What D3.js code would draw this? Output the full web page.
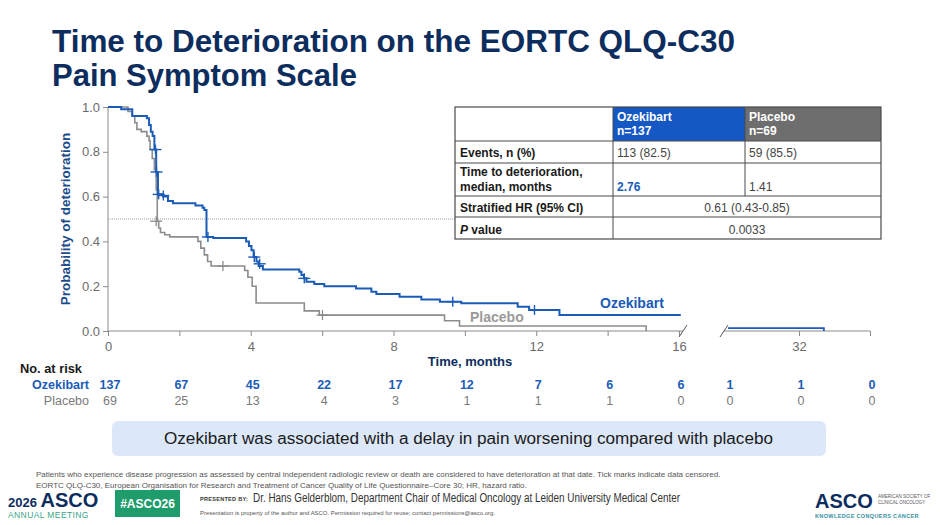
<!DOCTYPE html>
<html>
<head>
<meta charset="utf-8">
<script src="https://cdn.jsdelivr.net/npm/d3@7"></script>
<style>
  body { margin: 0; background: #fff; }
  svg { display: block; font-family: "Liberation Sans", Arial, sans-serif; }
  .narrow { font-family: "Liberation Sans Narrow", "Liberation Sans", Arial, sans-serif; }
</style>
</head>
<body>
<svg width="940" height="525"></svg>
<script>
// Kaplan-Meier steps (time in months, probability)
const ozeT = [0, 0.37, 0.68, 1.09, 1.15, 1.2, 1.25, 1.3, 1.35, 1.4, 1.54, 1.68, 1.82, 2.45, 2.65, 2.7, 2.76, 2.95,
  3.87, 3.95, 4.02, 4.08, 4.16, 4.22, 4.34, 5.36, 5.42, 5.49, 5.56, 5.78, 6.06, 6.95, 7.38, 7.52, 8.17, 8.78,
  9.3, 9.9, 11.48, 11.8, 12.65, 16.05];
const ozeS = [1, 0.99, 0.96, 0.95, 0.92, 0.89, 0.87, 0.81, 0.71, 0.61, 0.6, 0.58, 0.57, 0.56, 0.55, 0.54, 0.42, 0.415,
  0.4, 0.38, 0.36, 0.33, 0.31, 0.29, 0.275, 0.265, 0.25, 0.235, 0.22, 0.21, 0.2, 0.19, 0.175, 0.165, 0.153, 0.141,
  0.131, 0.124, 0.108, 0.094, 0.071, 0.071];
const ozeTailT = [28, 33.4];
const ozeTailS = [0.013, 0];
const ozeCensT = [1.33, 1.36, 1.42, 1.55, 2.8, 4.1, 4.25, 5.5, 9.66, 11.95];
const ozeCensS = [0.81, 0.71, 0.61, 0.605, 0.42, 0.33, 0.3, 0.235, 0.131, 0.094];

const plaT = [0, 0.56, 0.68, 0.75, 0.81, 0.93, 1.09, 1.15, 1.18, 1.24, 1.3, 1.35, 1.38, 1.42, 1.47, 1.59, 1.73,
  2.52, 2.6, 2.7, 2.79, 2.89, 3.83, 3.92, 4.04, 4.15, 5.5, 5.92, 9.43, 9.85, 15.08];
const plaS = [1, 0.98, 0.96, 0.93, 0.9, 0.89, 0.87, 0.85, 0.81, 0.77, 0.72, 0.63, 0.49, 0.46, 0.44, 0.43, 0.42,
  0.4, 0.37, 0.34, 0.31, 0.29, 0.27, 0.24, 0.2, 0.125, 0.09, 0.071, 0.046, 0.022, 0];
const plaCensT = [1.35, 3.22, 6.01];
const plaCensS = [0.49, 0.29, 0.071];

const yTicks = [0, 0.2, 0.4, 0.6, 0.8, 1.0];
const xTicksLeft = [0, 2, 4, 6, 8, 10, 12, 14, 16];
const xLabelsLeft = [0, 4, 8, 12, 16];
const xTicksRight = [32, 36];
const xLabelsRight = [32];

const riskTimes = [0, 2, 4, 6, 8, 10, 12, 14, 16, 28, 32, 36];
const ozeRisk = [137, 67, 45, 22, 17, 12, 7, 6, 6, 1, 1, 0];
const plaRisk = [69, 25, 13, 4, 3, 1, 1, 1, 0, 0, 0, 0];

const tableRowLabels = [["Events, n (%)"], ["Time to deterioration,", "median, months"], ["Stratified HR (95% CI)"], ["P value"]];
const ozeCol = ["113 (82.5)", "2.76"];
const plaCol = ["59 (85.5)", "1.41"];
const mergedCol = ["0.61 (0.43-0.85)", "0.0033"];

const BLUE = "#1b5cb8", GREY = "#8c8c8c", NAVY = "#0c2d5e";

const svg = d3.select("svg");

// title
svg.append("text").attr("x", 52).attr("y", 52).attr("font-size", 31).attr("font-weight", "bold")
  .attr("textLength", 683).attr("lengthAdjust", "spacingAndGlyphs")
  .attr("fill", NAVY).text("Time to Deterioration on the EORTC QLQ-C30");
svg.append("text").attr("x", 52).attr("y", 86).attr("font-size", 31).attr("font-weight", "bold")
  .attr("fill", NAVY).text("Pain Symptom Scale");

// scales: broken x axis
const xL = d3.scaleLinear().domain([0, 16]).range([108, 679]);
const xR = d3.scaleLinear().domain([28, 36]).range([728, 870]);
const xPos = t => t <= 16.1 ? xL(t) : xR(t);
const y = d3.scaleLinear().domain([0, 1]).range([331, 107]);

const g = svg.append("g");
const axisCol = "#8a8a8a";

// y axis
const yAxis = g.append("g").attr("transform", "translate(108,0)")
  .call(d3.axisLeft(y).tickValues(yTicks).tickFormat(d3.format(".1f")).tickSize(5));
yAxis.select(".domain").attr("stroke", axisCol).attr("d", "M0,107V331");
yAxis.selectAll(".tick line").attr("stroke", axisCol);
yAxis.selectAll("text").attr("fill", "#6b6b6b").attr("font-size", 13).attr("font-family", "Liberation Sans, Arial, sans-serif");

// x axis left part
const xaL = g.append("g").attr("transform", "translate(0,331)")
  .call(d3.axisBottom(xL).tickValues(xTicksLeft).tickSize(5)
    .tickFormat(d => xLabelsLeft.includes(d) ? d : ""));
xaL.select(".domain").attr("stroke", axisCol).attr("d", "M108,0H683");
xaL.selectAll(".tick line").attr("stroke", axisCol);
xaL.selectAll("text").attr("fill", "#6b6b6b").attr("font-size", 13).attr("dy", "0.95em").attr("font-family", "Liberation Sans, Arial, sans-serif");

// x axis right part
const xaR = g.append("g").attr("transform", "translate(0,331)")
  .call(d3.axisBottom(xR).tickValues(xTicksRight).tickSize(5)
    .tickFormat(d => xLabelsRight.includes(d) ? d : ""));
xaR.select(".domain").attr("stroke", axisCol).attr("d", "M724,0H870");
xaR.selectAll(".tick line").attr("stroke", axisCol);
xaR.selectAll("text").attr("fill", "#6b6b6b").attr("font-size", 13).attr("dy", "0.95em").attr("font-family", "Liberation Sans, Arial, sans-serif");

// break marks
[683, 724].forEach(bx => {
  g.append("line").attr("x1", bx - 4).attr("y1", 337).attr("x2", bx + 4).attr("y2", 325)
    .attr("stroke", "#555").attr("stroke-width", 1);
});

// axis titles
svg.append("text").attr("transform", "translate(70,219) rotate(-90)").attr("text-anchor", "middle")
  .attr("font-size", 13.5).attr("font-weight", "bold").attr("fill", "#1e4c8a").text("Probability of deterioration");
svg.append("text").attr("x", 470).attr("y", 366).attr("text-anchor", "middle")
  .attr("font-size", 13).attr("font-weight", "bold").attr("fill", NAVY).text("Time, months");

// median reference line
g.append("line").attr("x1", 108).attr("x2", 455).attr("y1", y(0.5)).attr("y2", y(0.5))
  .attr("stroke", "#9a9a9a").attr("stroke-width", 1).attr("stroke-dasharray", "1,1");

// curves
const step = d3.line().x(d => xPos(d[0])).y(d => y(d[1])).curve(d3.curveStepAfter);
const plaPts = d3.zip(plaT, plaS);
const ozePts = d3.zip(ozeT, ozeS);
g.append("path").attr("d", step(plaPts)).attr("fill", "none").attr("stroke", GREY).attr("stroke-width", 1.6);
g.append("path").attr("d", step(ozePts)).attr("fill", "none").attr("stroke", BLUE).attr("stroke-width", 2);
g.append("path").attr("d", step(d3.zip(ozeTailT, ozeTailS))).attr("fill", "none").attr("stroke", BLUE).attr("stroke-width", 1.8);

// censor ticks
function censor(ts, ss, col, w) {
  const cg = g.append("g").attr("stroke", col).attr("stroke-width", w);
  d3.zip(ts, ss).forEach(([t, s]) => {
    const cx = xPos(t), cy = y(s);
    cg.append("line").attr("x1", cx - 6).attr("x2", cx + 6).attr("y1", cy).attr("y2", cy);
    cg.append("line").attr("x1", cx).attr("x2", cx).attr("y1", cy - 5).attr("y2", cy + 5);
  });
}
censor(plaCensT, plaCensS, GREY, 1.3);
censor(ozeCensT, ozeCensS, BLUE, 1.4);

// curve labels
svg.append("text").attr("x", 600).attr("y", 308).attr("font-size", 14).attr("font-weight", "bold")
  .attr("fill", BLUE).text("Ozekibart");
svg.append("text").attr("x", 470).attr("y", 322).attr("font-size", 14).attr("font-weight", "bold")
  .attr("fill", "#9a9a9a").text("Placebo");

// results table
const tx = [455, 613, 745, 881];
const ty = [107, 141, 163, 196, 217, 239];
const tbl = svg.append("g");
tbl.append("rect").attr("x", tx[1]).attr("y", ty[0]).attr("width", tx[2] - tx[1]).attr("height", ty[1] - ty[0]).attr("fill", "#1558c4");
tbl.append("rect").attr("x", tx[2]).attr("y", ty[0]).attr("width", tx[3] - tx[2]).attr("height", ty[1] - ty[0]).attr("fill", "#6e6e6e");
tbl.append("rect").attr("x", tx[0]).attr("y", ty[0]).attr("width", tx[3] - tx[0]).attr("height", ty[5] - ty[0])
  .attr("fill", "none").attr("stroke", "#4a4a4a").attr("stroke-width", 1.2);
ty.slice(1, 5).forEach(v => tbl.append("line").attr("x1", tx[0]).attr("x2", tx[3]).attr("y1", v).attr("y2", v).attr("stroke", "#4a4a4a"));
tbl.append("line").attr("x1", tx[1]).attr("x2", tx[1]).attr("y1", ty[0]).attr("y2", ty[5]).attr("stroke", "#4a4a4a");
tbl.append("line").attr("x1", tx[2]).attr("x2", tx[2]).attr("y1", ty[0]).attr("y2", ty[3]).attr("stroke", "#4a4a4a");

const hdr = [["Ozekibart", "n=137"], ["Placebo", "n=69"]];
hdr.forEach((lines, i) => lines.forEach((s, j) =>
  tbl.append("text").attr("x", tx[i + 1] + 4).attr("y", 121 + j * 14).attr("font-size", 12).attr("font-weight", "bold")
    .attr("fill", "#fff").text(s)));

const rowBase = [157, 176, 212, 234];
tableRowLabels.forEach((lines, i) => lines.forEach((s, j) => {
  const t = tbl.append("text").attr("x", tx[0] + 5).attr("y", rowBase[i] + j * 15).attr("font-size", 12)
    .attr("font-weight", "bold").attr("fill", "#1a1a1a");
  if (s === "P value") {
    t.append("tspan").attr("font-style", "italic").text("P");
    t.append("tspan").text(" value");
  } else t.text(s);
}));
const valY = [157, 191];
ozeCol.forEach((s, i) => tbl.append("text").attr("x", tx[1] + 4).attr("y", valY[i]).attr("font-size", 12)
  .attr("fill", i === 1 ? BLUE : "#444").attr("font-weight", i === 1 ? "bold" : "normal").text(s));
plaCol.forEach((s, i) => tbl.append("text").attr("x", tx[2] + 4).attr("y", valY[i]).attr("font-size", 12)
  .attr("fill", "#444").text(s));
mergedCol.forEach((s, i) => tbl.append("text").attr("x", (tx[1] + tx[3]) / 2).attr("y", rowBase[i + 2])
  .attr("text-anchor", "middle").attr("font-size", 12).attr("fill", "#444").text(s));

// number at risk
const risk = svg.append("g").attr("class", "narrow");
risk.append("text").attr("x", 20).attr("y", 373).attr("font-size", 12.5).attr("font-weight", "bold")
  .attr("fill", "#1a1a1a").attr("textLength", 62).attr("lengthAdjust", "spacingAndGlyphs").text("No. at risk");
risk.append("text").attr("x", 89).attr("y", 389).attr("text-anchor", "end").attr("font-size", 12.5)
  .attr("font-weight", "bold").attr("fill", BLUE).text("Ozekibart");
risk.append("text").attr("x", 89).attr("y", 405).attr("text-anchor", "end").attr("font-size", 12.5)
  .attr("fill", "#7a7a7a").text("Placebo");
risk.selectAll(".oz").data(d3.zip(riskTimes, ozeRisk)).join("text")
  .attr("x", d => xPos(d[0]) + 2).attr("y", 389).attr("text-anchor", "middle").attr("font-size", 12.5)
  .attr("font-weight", "bold").attr("fill", BLUE).text(d => d[1]);
risk.selectAll(".pl").data(d3.zip(riskTimes, plaRisk)).join("text")
  .attr("x", d => xPos(d[0]) + 2).attr("y", 405).attr("text-anchor", "middle").attr("font-size", 12.5)
  .attr("fill", "#7a7a7a").text(d => d[1]);

// callout
svg.append("rect").attr("x", 112).attr("y", 421).attr("width", 714).attr("height", 35).attr("rx", 6)
  .attr("fill", "#dce8f9");
svg.append("text").attr("x", 164).attr("y", 444).attr("font-size", 16)
  .attr("textLength", 609).attr("lengthAdjust", "spacingAndGlyphs")
  .attr("fill", "#1a1a1a").text("Ozekibart was associated with a delay in pain worsening compared with placebo");

// footnotes
const foot = svg.append("g").attr("class", "narrow").attr("fill", "#555").attr("font-size", 8);
foot.append("text").attr("x", 36).attr("y", 477)
  .text("Patients who experience disease progression as assessed by central independent radiologic review or death are considered to have deterioration at that date. Tick marks indicate data censored.");
foot.append("text").attr("x", 36).attr("y", 488)
  .text("EORTC QLQ-C30, European Organisation for Research and Treatment of Cancer Quality of Life Questionnaire–Core 30; HR, hazard ratio.");

// footer branding
svg.append("text").attr("x", 8).attr("y", 507).attr("fill", NAVY).attr("font-weight", "bold")
  .call(t => { t.append("tspan").attr("font-size", 13).text("2026 "); t.append("tspan").attr("font-size", 20).text("ASCO"); });
svg.append("text").attr("x", 8).attr("y", 518).attr("font-size", 8.5).attr("fill", "#3aa58c").attr("letter-spacing", 0.4)
  .text("ANNUAL MEETING");
svg.append("rect").attr("x", 115).attr("y", 490).attr("width", 65).attr("height", 27).attr("fill", "#1f9c6b");
svg.append("text").attr("x", 147.5).attr("y", 508).attr("text-anchor", "middle").attr("font-size", 12)
  .attr("font-weight", "bold").attr("fill", "#fff").text("#ASCO26");
svg.append("text").attr("x", 200).attr("y", 501).attr("font-size", 5.5).attr("font-weight", "bold").attr("fill", "#333")
  .attr("letter-spacing", 0.3).text("PRESENTED BY:");
svg.append("text").attr("class", "narrow").attr("x", 253).attr("y", 502).attr("font-size", 12)
  .attr("textLength", 427).attr("lengthAdjust", "spacingAndGlyphs").attr("fill", "#333")
  .text("Dr. Hans Gelderblom, Department Chair of Medical Oncology at Leiden University Medical Center");
svg.append("text").attr("class", "narrow").attr("x", 200).attr("y", 515).attr("font-size", 5.8).attr("fill", "#555")
  .attr("textLength", 295).attr("lengthAdjust", "spacingAndGlyphs")
  .text("Presentation is property of the author and ASCO. Permission required for reuse; contact permissions@asco.org.");
svg.append("text").attr("x", 815).attr("y", 508).attr("font-size", 20).attr("font-weight", "bold").attr("fill", NAVY).text("ASCO");
svg.append("text").attr("x", 878).attr("y", 498).attr("font-size", 4.5).attr("fill", "#555").text("AMERICAN SOCIETY OF");
svg.append("text").attr("x", 878).attr("y", 504).attr("font-size", 4.5).attr("fill", "#555").text("CLINICAL ONCOLOGY");
svg.append("text").attr("x", 815).attr("y", 518).attr("font-size", 5.6).attr("font-weight", "bold").attr("fill", "#3a8fa0")
  .attr("letter-spacing", 0.3).text("KNOWLEDGE CONQUERS CANCER");
</script>
</body>
</html>
